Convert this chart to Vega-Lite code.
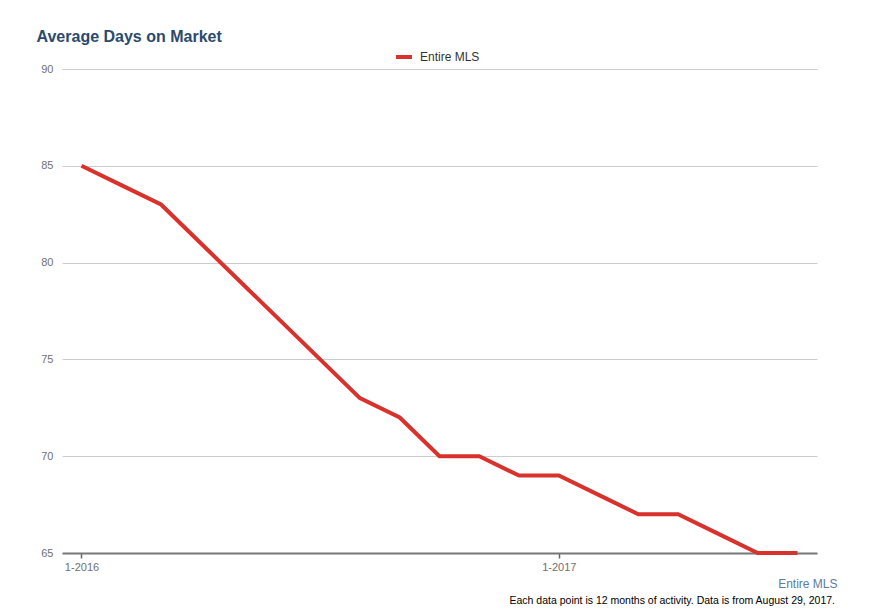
{
  "$schema": "https://vega.github.io/schema/vega-lite/v6.json",
  "autosize": {"type": "none"},
  "width": 755,
  "height": 484,
  "padding": {"left": 62, "top": 69, "right": 59, "bottom": 59},
  "background": "white",
  "config": {
    "font": "Liberation Sans",
    "view": {"stroke": null}
  },
  "title": {
    "text": "Each data point is 12 months of activity. Data is from August 29, 2017.",
    "orient": "bottom",
    "anchor": "end",
    "dx": -2,
    "offset": 7,
    "fontSize": 10.5,
    "fontWeight": "normal",
    "color": "#000000",
    "font": "Liberation Sans"
  },
  "data": {
    "values": [
      {"month": "1-2016", "days": 85, "series": "Entire MLS"},
      {"month": "2-2016", "days": 84, "series": "Entire MLS"},
      {"month": "3-2016", "days": 83, "series": "Entire MLS"},
      {"month": "4-2016", "days": 81, "series": "Entire MLS"},
      {"month": "5-2016", "days": 79, "series": "Entire MLS"},
      {"month": "6-2016", "days": 77, "series": "Entire MLS"},
      {"month": "7-2016", "days": 75, "series": "Entire MLS"},
      {"month": "8-2016", "days": 73, "series": "Entire MLS"},
      {"month": "9-2016", "days": 72, "series": "Entire MLS"},
      {"month": "10-2016", "days": 70, "series": "Entire MLS"},
      {"month": "11-2016", "days": 70, "series": "Entire MLS"},
      {"month": "12-2016", "days": 69, "series": "Entire MLS"},
      {"month": "1-2017", "days": 69, "series": "Entire MLS"},
      {"month": "2-2017", "days": 68, "series": "Entire MLS"},
      {"month": "3-2017", "days": 67, "series": "Entire MLS"},
      {"month": "4-2017", "days": 67, "series": "Entire MLS"},
      {"month": "5-2017", "days": 66, "series": "Entire MLS"},
      {"month": "6-2017", "days": 65, "series": "Entire MLS"},
      {"month": "7-2017", "days": 65, "series": "Entire MLS"}
    ]
  },
  "mark": {"type": "line", "strokeWidth": 4, "strokeJoin": "miter", "clip": false},
  "encoding": {
    "x": {
      "field": "month",
      "type": "ordinal",
      "sort": null,
      "scale": {"type": "point", "padding": 0.49},
      "axis": {
        "values": ["1-2016", "1-2017"],
        "labelAngle": 0,
        "labelFontSize": 11,
        "labelColor": "#707070",
        "labelPadding": 3,
        "domainColor": "#777777",
        "domainWidth": 2,
        "tickColor": "#666666",
        "tickSize": 5,
        "tickWidth": 1.5,
        "grid": false,
        "title": "Entire MLS",
        "titleColor": "#5a7da6",
        "titleFontSize": 12,
        "titleFontWeight": "normal",
        "titleAnchor": "end",
        "titleAlign": "right",
        "titleBaseline": "alphabetic",
        "titleX": 775,
        "titleY": 34
      }
    },
    "y": {
      "field": "days",
      "type": "quantitative",
      "scale": {"domain": [65, 90], "zero": false, "nice": false},
      "axis": {
        "values": [65, 70, 75, 80, 85, 90],
        "domain": false,
        "ticks": false,
        "labelPadding": 9,
        "labelFontSize": 11,
        "labelColor": "#707070",
        "gridColor": "#cccccc",
        "gridWidth": 1,
        "title": "Average Days on Market",
        "titleAngle": 0,
        "titleAlign": "left",
        "titleBaseline": "alphabetic",
        "titleX": -26,
        "titleY": -28,
        "titleFontSize": 16,
        "titleFontWeight": "bold",
        "titleColor": "#2b4a6e"
      }
    },
    "color": {
      "field": "series",
      "type": "nominal",
      "scale": {"range": ["#d9312b"]},
      "legend": {
        "title": null,
        "orient": "none",
        "legendX": 332,
        "legendY": -22,
        "symbolType": "stroke",
        "symbolStrokeWidth": 4,
        "symbolSize": 256,
        "labelFontSize": 12,
        "labelColor": "#333333",
        "labelOffset": 6
      }
    }
  }
}
